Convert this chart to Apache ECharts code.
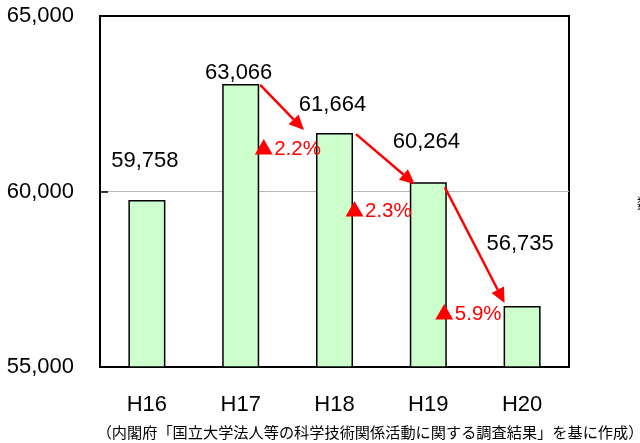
<!DOCTYPE html>
<html>
<head>
<meta charset="utf-8">
<script src="https://cdn.jsdelivr.net/npm/echarts@6/dist/echarts.min.js"></script>
<style>
html, body { margin: 0; padding: 0; background: #fff; }
#chart { width: 640px; height: 443px; }
</style>
</head>
<body>
<div id="chart"></div>
<script>
const years = ['H16', 'H17', 'H18', 'H19', 'H20'];
const researchers = [59758, 63066, 61664, 60264, 56735];
const declinePct = [2.2, 2.3, 5.9];
const yTicks = [55000, 60000, 65000];
const source = '（内閣府「国立大学法人等の科学技術関係活動に関する調査結果」を基に作成）';

// hand-placed nudges (px), the labels/arrows in the original are placed by hand
const labelRise = [39, 11, 28, 40, 62];
const arrowFrom = [[1, 1], [3, 1], [-2, 5]];
const arrowTo = [[-12, -3], [5, 2], [1, -3]];
const pctAt = [[-5, 16], [-8, 29], [-12, 8]];

const BAR_W = 37;
const FONT = '"Liberation Sans", Arial, sans-serif';
const CJK = '"Noto Sans CJK JP", sans-serif';
const RED = '#ff0000';

const fmt = v => v.toLocaleString('en-US');

function renderArrow(params, api) {
  const i = api.value(0);
  const k = i - 1;
  const a = api.coord([i, api.value(1)]);
  const b = api.coord([i + 1, api.value(2)]);
  const x0 = a[0] + BAR_W / 2 + arrowFrom[k][0], y0 = a[1] + arrowFrom[k][1];
  const x1 = b[0] - BAR_W / 2 + arrowTo[k][0], y1 = b[1] + arrowTo[k][1];
  const ang = Math.atan2(y1 - y0, x1 - x0);
  const len = 15, half = 7;
  const bx = x1 - len * Math.cos(ang), by = y1 - len * Math.sin(ang);
  const nx = -Math.sin(ang) * half, ny = Math.cos(ang) * half;
  return {
    type: 'group',
    children: [
      { type: 'line', shape: { x1: x0, y1: y0, x2: bx, y2: by }, style: { stroke: RED, lineWidth: 2.5 } },
      { type: 'polygon', shape: { points: [[x1, y1], [bx + nx, by + ny], [bx - nx, by - ny]] }, style: { fill: RED } },
      {
        type: 'text',
        x: a[0] + BAR_W / 2 + pctAt[k][0],
        y: b[1] + pctAt[k][1],
        style: {
          text: '{t|▲}{n|' + declinePct[k].toFixed(1) + '%}',
          rich: {
            t: { fill: RED, fontSize: 19, fontFamily: CJK, padding: [0, 1, 2, 0] },
            n: { fill: RED, fontSize: 20.5, fontFamily: FONT }
          },
          align: 'left', verticalAlign: 'middle'
        }
      }
    ]
  };
}

const chart = echarts.init(document.getElementById('chart'));
chart.setOption({
  animation: false,
  grid: {
    left: 100, right: 71, top: 16, bottom: 76,
    show: true, borderColor: '#000', borderWidth: 2, backgroundColor: 'transparent'
  },
  xAxis: {
    type: 'category',
    data: years,
    axisLine: { lineStyle: { color: '#000', width: 2 } },
    axisTick: { inside: true, length: 6, lineStyle: { color: '#000', width: 1.5 } },
    axisLabel: { color: '#000', fontSize: 22, fontFamily: FONT, margin: 27 }
  },
  yAxis: {
    type: 'value',
    min: yTicks[0], max: yTicks[yTicks.length - 1], interval: yTicks[1] - yTicks[0],
    axisLine: { show: true, lineStyle: { color: '#000', width: 2 } },
    axisTick: { show: true, inside: true, length: 8, lineStyle: { color: '#000', width: 1.5 } },
    axisLabel: { color: '#000', fontSize: 22, fontFamily: FONT, margin: 26, padding: [6, 0, 0, 0], formatter: fmt },
    splitLine: { show: true, showMinLine: false, showMaxLine: false, lineStyle: { color: '#b8b8b8', width: 1 } }
  },
  series: [
    {
      type: 'bar',
      barWidth: BAR_W,
      itemStyle: { color: '#ccffcc', borderColor: '#000', borderWidth: 1.5 },
      data: researchers.map((v, i) => ({
        value: v,
        label: {
          show: true,
          position: ['50%', -labelRise[i]],
          offset: [-2, 0],
          align: 'center', verticalAlign: 'middle',
          formatter: p => fmt(p.value),
          color: '#000', fontSize: 22, fontFamily: FONT
        }
      }))
    },
    {
      type: 'custom',
      z: 5,
      clip: false,
      renderItem: renderArrow,
      data: declinePct.map((p, k) => [k + 1, researchers[k + 1], researchers[k + 2]])
    }
  ],
  graphic: [
    {
      type: 'text', x: 370, y: 432,
      style: { text: source, fill: '#000', fontSize: 15.2, fontFamily: CJK, align: 'center', verticalAlign: 'middle' }
    },
    {
      type: 'text', x: 637, y: 203,
      style: { text: '数', fill: '#000', fontSize: 14, fontFamily: CJK, verticalAlign: 'middle' }
    }
  ]
});
</script>
</body>
</html>
